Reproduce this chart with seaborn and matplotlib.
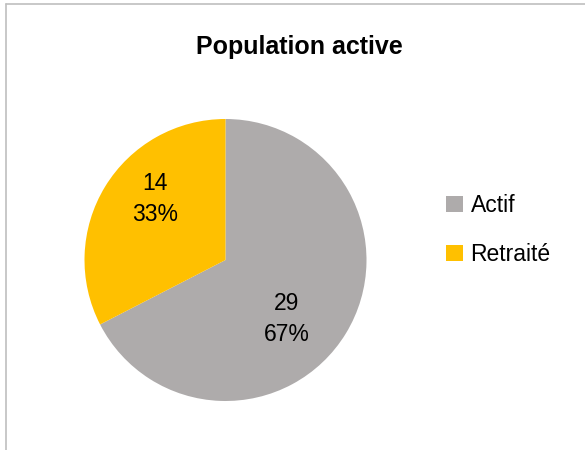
import matplotlib
matplotlib.use("Agg")
import matplotlib.pyplot as plt
from matplotlib.lines import Line2D
import seaborn as sns
import numpy as np

categories = ["Actif", "Retraité"]
values = [29, 14]
colors = ["#AEABAB", "#FFC000"]
title = "Population active"
# label placement (radius fraction, angle in degrees) for each value label
label_pos = [(0.60, -44), (0.66, 139)]

sns.set_theme(style="white")
plt.rcParams["font.family"] = ["Liberation Sans", "DejaVu Sans"]
plt.rcParams["text.color"] = "#000000"

W, H = 585, 450
fig = plt.figure(figsize=(W / 100, H / 100), dpi=100)
fig.patch.set_facecolor("white")

cx, cy, r = 225.5, 260, 141
ax = fig.add_axes([(cx - r) / W, (H - cy - r) / H, 2 * r / W, 2 * r / H])

total = sum(values)
wedges, _, autotexts = ax.pie(
    values, colors=colors, startangle=90, counterclock=False, radius=1,
    autopct=lambda p: f"{int(round(p * total / 100))}\n{p:.0f}%",
    wedgeprops=dict(linewidth=0),
    textprops=dict(fontsize=16.5, color="#000000", linespacing=1.45),
)
for t, (rr, ang) in zip(autotexts, label_pos):
    a = np.deg2rad(ang)
    t.set_position((rr * np.cos(a), rr * np.sin(a)))
    t.set_ha("center")
    t.set_va("center")
ax.set_xlim(-1, 1)
ax.set_ylim(-1, 1)
ax.set_aspect("auto")
ax.axis("off")

fig.text(299 / W, 1 - 47 / H, title, ha="center", va="center",
         fontsize=18, fontweight="bold", color="#000000")

fig.legend(wedges, categories, loc="center left",
           bbox_to_anchor=(435 / W, 1 - 230 / H), frameon=False,
           fontsize=16.5, handlelength=0.7, handleheight=0.7,
           handletextpad=0.35, labelspacing=1.15, borderpad=0,
           labelcolor="#000000")

# chart border (top and left edges visible)
fig.add_artist(Line2D([6 / W, 1], [1 - 4 / H, 1 - 4 / H], color="#BFBFBF", lw=1.2))
fig.add_artist(Line2D([6 / W, 6 / W], [0, 1 - 4 / H], color="#BFBFBF", lw=1.2))

fig.savefig("out.png", dpi=100)
